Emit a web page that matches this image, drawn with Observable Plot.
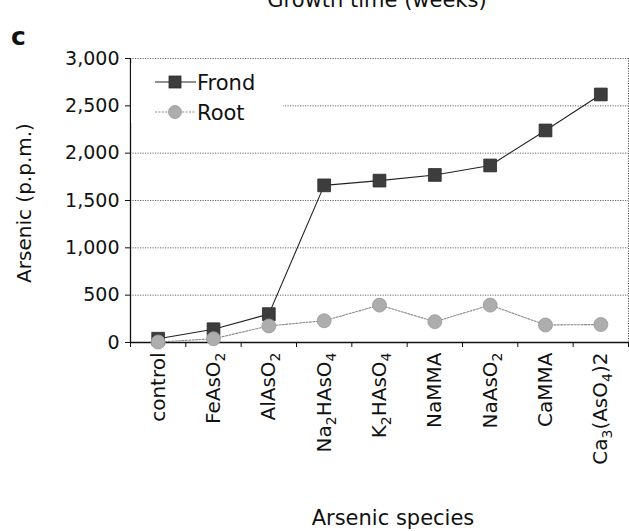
<!DOCTYPE html>
<html>
<head>
<meta charset="utf-8">
<script src="https://cdn.jsdelivr.net/npm/d3@7"></script>
<script src="https://cdn.jsdelivr.net/npm/@observablehq/plot@0.6"></script>
<style>
  html, body { margin: 0; padding: 0; background: #fff; overflow: hidden; }
  #chart { position: relative; width: 629px; height: 531px; }
</style>
</head>
<body>
<div id="chart"></div>
<script>
// ---- data ----
const categories = ["control", "FeAsO_2", "AlAsO_2", "Na_2HAsO_4", "K_2HAsO_4", "NaMMA", "NaAsO_2", "CaMMA", "Ca_3(AsO_4)2"];
const frond = [40, 140, 300, 1660, 1710, 1770, 1870, 2240, 2620];
const root = [5, 40, 175, 230, 395, 220, 395, 185, 190];
const yTicks = [0, 500, 1000, 1500, 2000, 2500, 3000];
const seriesNames = ["Frond", "Root"];
const xTitle = "Arsenic species";
const yTitle = "Arsenic (p.p.m.)";
const panelLabel = "c";
const topText = "Growth time (weeks)";

// ---- tables built from the arrays ----
const frondData = categories.map((c, i) => ({i, c, v: frond[i]}));
const rootData = categories.map((c, i) => ({i, c, v: root[i]}));
const catData = categories.map((c, i) => ({i, c}));
const boundaries = d3.range(categories.length + 1).map(k => k - 0.5);

const font = "DejaVu Sans";

const plot = Plot.plot({
  width: 629,
  height: 531,
  marginTop: 58,
  marginBottom: 189,
  marginLeft: 130,
  marginRight: 1,
  style: `font-family: '${font}'; font-size: 19px; background: white; color: #111;`,
  x: {type: "linear", domain: [-0.5, categories.length - 0.5]},
  y: {domain: [0, 3000]},
  marks: [
    Plot.ruleY(yTicks.filter(d => d > 0), {stroke: "#666", strokeWidth: 1, strokeDasharray: "1.2,1.3"}),
    Plot.ruleX([categories.length - 0.5], {stroke: "#555", strokeWidth: 1, strokeDasharray: "1.2,1.3"}),
    Plot.axisY({ticks: yTicks, tickFormat: d3.format(","), tickSize: 5, tickPadding: 6, label: null, fontSize: 19}),
    Plot.axisX({ticks: boundaries, tickFormat: () => "", tickSize: 5, label: null}),
    Plot.ruleY([0], {stroke: "#111", strokeWidth: 1.3}),
    Plot.ruleX([-0.5], {stroke: "#111", strokeWidth: 1.3}),
    Plot.line(frondData, {x: "i", y: "v", stroke: "#222", strokeWidth: 1.1}),
    Plot.dot(frondData, {x: "i", y: "v", symbol: "square", r: 7.2, fill: "#3d3d3d", stroke: "#2a2a2a", strokeWidth: 0.8}),
    Plot.line(rootData, {x: "i", y: "v", stroke: "#8a8a8a", strokeWidth: 1.1, strokeDasharray: "2,1.4"}),
    Plot.dot(rootData, {x: "i", y: "v", symbol: "circle", r: 7, fill: "#adadad", stroke: "#999", strokeWidth: 0.8}),
    Plot.text(catData, {x: "i", y: 0, text: "c", rotate: -90, textAnchor: "end", dy: 10, fontSize: 20, fill: "#111", className: "xlab"})
  ]
});

document.getElementById("chart").appendChild(plot);
const svg = d3.select(plot);

// subscripts in category labels
svg.selectAll("g.xlab text").each(function() {
  const raw = this.textContent;
  this.textContent = "";
  const parts = raw.split(/(_\d)/).filter(s => s.length);
  let prevSub = false;
  for (const p of parts) {
    const sub = p.startsWith("_");
    const t = document.createElementNS("http://www.w3.org/2000/svg", "tspan");
    t.textContent = sub ? p.slice(1) : p;
    if (sub) { t.setAttribute("font-size", "14px"); t.setAttribute("dy", "5"); }
    else if (prevSub) { t.setAttribute("dy", "-5"); }
    this.appendChild(t);
    prevSub = sub;
  }
});

// titles
svg.append("text").attr("x", 393).attr("y", 525).attr("text-anchor", "middle")
  .attr("font-size", 21).attr("fill", "#111").text(xTitle);
svg.append("text").attr("transform", "translate(31,203) rotate(-90)").attr("text-anchor", "middle")
  .attr("font-size", 20).attr("fill", "#111").text(yTitle);
svg.append("text").attr("x", 11).attr("y", 45).attr("text-anchor", "start").attr("font-size", 25).attr("font-weight", "bold")
  .attr("fill", "#111").text(panelLabel);
svg.append("text").attr("x", 377).attr("y", 7).attr("text-anchor", "middle")
  .attr("font-size", 21).attr("fill", "#111").text(topText);

// legend
const lg = svg.append("g");
lg.append("rect").attr("x", 131).attr("y", 63).attr("width", 152).attr("height", 60).attr("fill", "white");
const rows = [
  {name: seriesNames[0], y: 82, stroke: "#222", dash: null, sym: "square", fill: "#3d3d3d", st: "#2a2a2a"},
  {name: seriesNames[1], y: 112, stroke: "#8a8a8a", dash: "2,1.4", sym: "circle", fill: "#adadad", st: "#999"}
];
for (const r of rows) {
  lg.append("line").attr("x1", 155).attr("x2", 196).attr("y1", r.y).attr("y2", r.y)
    .attr("stroke", r.stroke).attr("stroke-width", 1.1).attr("stroke-dasharray", r.dash);
  if (r.sym === "square") {
    lg.append("rect").attr("x", 169).attr("y", r.y - 6).attr("width", 12).attr("height", 12)
      .attr("fill", r.fill).attr("stroke", r.st).attr("stroke-width", 0.8);
  } else {
    lg.append("circle").attr("cx", 175).attr("cy", r.y).attr("r", 6.5)
      .attr("fill", r.fill).attr("stroke", r.st).attr("stroke-width", 0.8);
  }
  lg.append("text").attr("x", 197).attr("y", r.y).attr("dy", "0.36em").attr("text-anchor", "start").attr("font-size", 21)
    .attr("fill", "#111").text(r.name);
}
</script>
</body>
</html>
